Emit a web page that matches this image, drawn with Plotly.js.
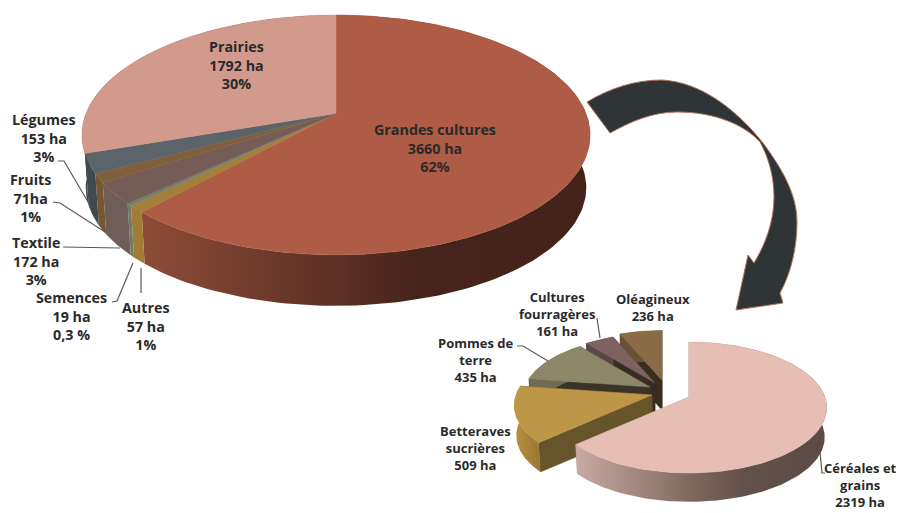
<!DOCTYPE html>
<html lang="fr">
<head>
<meta charset="utf-8">
<title>Surfaces agricoles</title>
<script src="https://cdn.plot.ly/plotly-3.0.1.min.js"></script>
<style>html,body{margin:0;padding:0;background:#fff}#chart{width:899px;height:513px}</style>
</head>
<body>
<div id="chart"></div>
<script>
// Land use: clockwise from twelve o'clock
const mainCategories = ["Grandes cultures", "Autres", "Semences", "Textile", "Fruits", "Légumes", "Prairies"];
const mainHectares = [3660, 57, 19, 172, 71, 153, 1792];
const mainAreaText = ["3660 ha", "57 ha", "19 ha", "172 ha", "71ha", "153 ha", "1792 ha"];
const mainShareText = ["62%", "1%", "0,3 %", "3%", "1%", "3%", "30%"];
const mainTopColors = ["#AE5C45", "#A37F3A", "#74806F", "#765C56", "#80603C", "#5B6469", "#D29A8D"];
const mainSideColors = [
  [[0, "#8E4C38"], [0.62, "#46241C"], [1, "#43221A"]],
  [[0, "#A27C32"], [1, "#A27C32"]],
  [[0, "#6F7C6A"], [1, "#6F7C6A"]],
  [[0, "#6F5D59"], [1, "#6F5D59"]],
  [[0, "#76552F"], [1, "#76552F"]],
  [[0, "#40494E"], [1, "#40494E"]],
  [[0, "#40494E"], [1, "#40494E"]]
];

// Breakdown of "Grandes cultures"
const subCategories = ["Céréales et<br>grains", "Betteraves<br>sucrières", "Pommes de<br>terre", "Cultures<br>fourragères", "Oléagineux"];
const subHectares = [2319, 509, 435, 161, 236];
const subAreaText = ["2319 ha", "509 ha", "435 ha", "161 ha", "236 ha"];
const subTopColors = ["#E6BEB3", "#BE9647", "#8C8768", "#7D6260", "#8A6B47"];
const subWallColors = ["#A8968F", "#67542A", "#3A3428", "#382C25", "#3A2E1E"];
const subSideColors = [
  [[0, "#C8AAA2"], [0.24, "#A28880"], [0.48, "#7C655D"], [0.68, "#62504A"], [1, "#5C4B44"]],
  [[0, "#B8923F"], [1, "#987733"]],
  [[0, "#6E6A50"], [1, "#6E6A50"]],
  [[0, "#5A4644"], [1, "#5A4644"]],
  [[0, "#6A5236"], [1, "#6A5236"]]
];

// Perspective model of each disc, in plot units
const mainDisc = {A: 250, B: 116.1, k: 0.179, depth: 53, floor: 0.985};
const subDisc = {A: 136, B: 63.8, k: 0.16, depth: 30, floor: 0.985};
const mainHub = {x: 336, y: 113.5};
const subHubs = [{x: 689, y: 397}, {x: 652, y: 395}, {x: 650, y: 387}, {x: 655, y: 383}, {x: 662, y: 380}];
const subScales = [1, 1, 0.92, 0.9, 0.9];

function project(disc, hub, angle, scale, lower) {
  const t = angle * Math.PI / 180;
  const u = Math.sin(t), v = Math.cos(t), d = 1 + disc.k * v;
  const s = scale * (lower ? disc.floor : 1);
  return [hub.x + disc.A * u * s / d, hub.y - disc.B * v * s / d + (lower ? disc.depth : 0)];
}

function arc(disc, hub, a0, a1, scale, lower) {
  const steps = Math.max(2, Math.ceil(Math.abs(a1 - a0) / 1.5));
  const pts = [];
  for (let i = 0; i <= steps; i++) pts.push(project(disc, hub, a0 + (a1 - a0) * i / steps, scale, lower));
  return pts;
}

function polygon(pts, color, gradient) {
  const xs = pts.map(p => p[0]).concat(pts[0][0]);
  const ys = pts.map(p => p[1]).concat(pts[0][1]);
  const tr = {type: "scatter", mode: "lines", x: xs, y: ys, fill: "toself", hoverinfo: "skip", showlegend: false};
  if (gradient) {
    tr.fillgradient = {type: "horizontal", colorscale: gradient, start: Math.min(...xs), stop: Math.max(...xs)};
    tr.line = {width: 0};
  } else {
    tr.fillcolor = color;
    tr.line = {color: color, width: 0.5};
  }
  return tr;
}

function sweeps(values) {
  const total = values.reduce((a, b) => a + b, 0);
  let run = 0;
  return values.map(v => { const a0 = run / total * 360; run += v; return [a0, run / total * 360]; });
}

const traces = [];

// Main disc: rim first, then the upper face
const mainSweeps = sweeps(mainHectares);
mainSweeps.forEach(([a0, a1], i) => {
  const top = arc(mainDisc, mainHub, a0, a1, 1, false);
  const low = arc(mainDisc, mainHub, a0, a1, 1, true).reverse();
  traces.push(polygon(top.concat(low), null, mainSideColors[i]));
});
mainSweeps.forEach(([a0, a1], i) => {
  traces.push(polygon([[mainHub.x, mainHub.y]].concat(arc(mainDisc, mainHub, a0, a1, 1, false)), mainTopColors[i]));
});

// Exploded disc, painted from the back slice to the front one
const subSweeps = sweeps(subHectares);
[4, 3, 2, 1, 0].forEach(i => {
  const [a0, a1] = subSweeps[i];
  const hub = subHubs[i], s = subScales[i];
  const floorHub = [hub.x, hub.y + subDisc.depth];
  [a0, a1].forEach(a => {
    traces.push(polygon([[hub.x, hub.y], project(subDisc, hub, a, s, false), project(subDisc, hub, a, s, true), floorHub], subWallColors[i]));
  });
  const top = arc(subDisc, hub, a0, a1, s, false);
  const low = arc(subDisc, hub, a0, a1, s, true).reverse();
  traces.push(polygon(top.concat(low), null, subSideColors[i]));
  traces.push(polygon([[hub.x, hub.y]].concat(top), subTopColors[i]));
});

// Leader lines from labels to slices
const leaders = [
  [[58, 161], [64, 161], [91, 207]],
  [[53, 202], [60, 203], [105, 232]],
  [[63, 247], [120, 248]],
  [[112, 302], [117, 301], [133, 263]],
  [[141, 268], [141, 293]],
  [[597, 318], [600, 338]],
  [[517, 346], [523, 346], [548, 361]],
  [[820, 452], [822, 473], [825, 473]]
];
leaders.forEach(l => traces.push({
  type: "scatter", mode: "lines", x: l.map(p => p[0]), y: l.map(p => p[1]),
  line: {color: "#5A5A5A", width: 1.2}, hoverinfo: "skip", showlegend: false
}));

// Label anchors follow the order of the category arrays
const mainLabelAt = [[435, 148], [146, 326], [71, 316], [36, 261], [30, 198], [44, 138], [236, 65]];
const subLabelAt = [[860, 485], [475, 448], [475, 360], [557, 314], [653, 307]];
const mainFont = {family: "Open Sans, Liberation Sans, sans-serif", size: 14.3, color: "#2A2A2A", weight: 700};
const subFont = {family: "Open Sans, Liberation Sans, sans-serif", size: 13, color: "#2A2A2A", weight: 700};

function label(text, at, font) {
  return {xref: "x", yref: "y", x: at[0], y: at[1], text: text, showarrow: false, align: "center",
          xanchor: "center", yanchor: "middle", font: font};
}

const annotations = mainCategories.map((c, i) => label(c + "<br>" + mainAreaText[i] + "<br>" + mainShareText[i], mainLabelAt[i], mainFont))
  .concat(subCategories.map((c, i) => label(c + "<br>" + subAreaText[i], subLabelAt[i], subFont)));

// Curved arrow linking the main disc to its breakdown
const arrowPath = "M587,102 C610,88 635,80 662,80 C700,82 735,108 763,143 C783,170 797,195 797,222 " +
  "C797,250 790,275 780,293 L783,303 L736,310 L748,255 L754,263 C765,245 774,222 774,197 " +
  "C774,178 769,158 760,142 C745,125 715,112 677,112 C652,112 630,122 610,133 Z";

const layout = {
  width: 899, height: 513,
  margin: {l: 0, r: 0, t: 0, b: 0},
  paper_bgcolor: "#FFFFFF", plot_bgcolor: "#FFFFFF",
  showlegend: false,
  xaxis: {range: [0, 899], visible: false, fixedrange: true},
  yaxis: {range: [513, 0], visible: false, fixedrange: true},
  shapes: [{type: "path", xref: "x", yref: "y", path: arrowPath, fillcolor: "#2F3537", line: {color: "#B4735C", width: 1}, layer: "below"}],
  annotations: annotations
};

Plotly.newPlot("chart", traces, layout, {staticPlot: true, displayModeBar: false});
</script>
</body>
</html>
